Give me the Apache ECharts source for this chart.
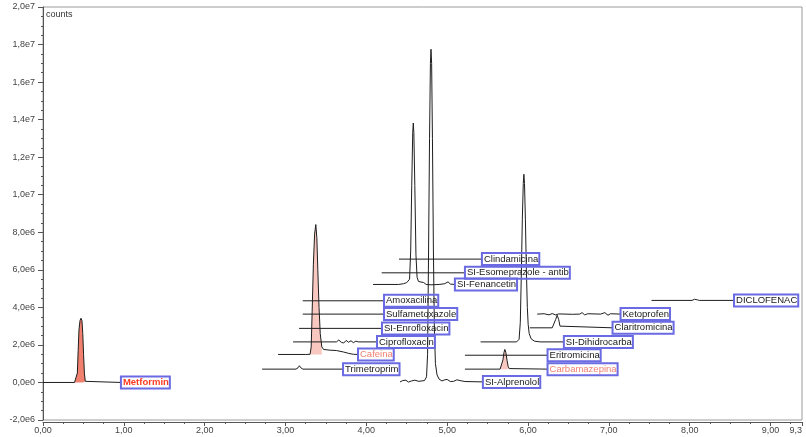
<!DOCTYPE html>
<html><head><meta charset="utf-8">
<script src="https://cdn.jsdelivr.net/npm/echarts@6/dist/echarts.min.js"></script>
<style>html,body{margin:0;padding:0;background:#fff}#c{width:806px;height:437px}</style>
</head><body><div id="c"></div>
<script>
// time (min), counts (x1e6)
const yTicks = [-2, 0, 2, 4, 6, 8, 10, 12, 14, 16, 18, 20];
const metformin = [[0,0],[0.39,0],[0.412,0.05],[0.425,0.5],[0.435,1.7],[0.445,2.8],[0.458,3.3],[0.470,3.42],[0.482,3.3],[0.492,2.6],[0.502,1.5],[0.512,0.5],[0.523,0.06],[0.54,0],[0.964,0]];
const trimetroprim = [[2.711,0.71],[3.13,0.71],[3.155,0.78],[3.172,0.89],[3.19,0.78],[3.215,0.71],[3.712,0.71]];
const cafeina = [[2.909,1.49],[3.25,1.49],[3.304,1.5],[3.318,1.9],[3.33,3.8],[3.345,6.3],[3.36,7.9],[3.375,8.41],[3.388,7.7],[3.40,6.0],[3.415,4.0],[3.43,2.6],[3.449,1.9],[3.47,1.76],[3.55,1.72],[3.63,1.7],[3.72,1.62],[3.78,1.55],[3.84,1.5],[3.897,1.49]];
const ciprofloxacin = [[3.094,2.16],[3.63,2.16],[3.66,2.26],[3.69,2.14],[3.72,2.1],[3.75,2.24],[3.78,2.14],[3.81,2.22],[3.84,2.12],[3.87,2.2],[3.90,2.16],[4.132,2.16]];
const enrofloxacin = [[3.168,2.88],[4.194,2.88]];
const sulfametoxazole = [[3.214,3.64],[4.219,3.64]];
const amoxacilina = [[3.214,4.35],[4.219,4.35]];
const fenancetin = [[4.083,5.22],[4.40,5.22],[4.46,5.26],[4.50,5.32],[4.535,5.5],[4.549,7.0],[4.562,10.5],[4.574,13.3],[4.581,13.82],[4.588,13.3],[4.60,10.5],[4.614,6.8],[4.628,5.6],[4.645,5.38],[4.664,5.35],[4.71,5.32],[4.74,5.22],[4.763,5.14],[4.80,5.2],[4.90,5.22],[4.97,5.26],[5.011,5.36],[5.04,5.24],[5.096,5.22]];
const esomeprazole = [[4.190,5.84],[5.220,5.84]];
const clindamicina = [[4.404,6.57],[5.430,6.57]];
const alprenolol = [[4.417,0.03],[4.45,0.1],[4.49,0.12],[4.52,0.02],[4.56,0.08],[4.60,0.12],[4.65,0.06],[4.72,0.1],[4.745,0.3],[4.758,1.5],[4.768,6],[4.782,13],[4.793,17.0],[4.800,17.75],[4.808,17.0],[4.818,13],[4.83,7],[4.842,2.8],[4.855,1.0],[4.875,0.4],[4.90,0.18],[4.936,0.08],[4.97,0.14],[5.00,0.16],[5.04,0.05],[5.08,0.06],[5.12,0.14],[5.16,0.1],[5.22,0.05],[5.442,0.03]];
const carbamazepina = [[5.220,0.71],[5.655,0.71],[5.674,0.78],[5.69,1.2],[5.703,1.6],[5.714,1.76],[5.726,1.6],[5.742,1.15],[5.755,0.85],[5.768,0.74],[5.79,0.71],[6.242,0.71]];
const eritromicina = [[5.22,1.45],[6.242,1.45]];
const dihidrocarba = [[5.414,2.16],[5.86,2.16],[5.89,2.3],[5.905,3.2],[5.918,5.8],[5.93,8.7],[5.942,10.6],[5.949,11.09],[5.957,10.6],[5.968,8.7],[5.98,6.0],[5.992,4.0],[6.002,3.1],[6.015,2.6],[6.04,2.32],[6.08,2.2],[6.15,2.16],[6.444,2.16]];
const claritromicina = [[6.023,2.91],[6.30,2.91],[6.324,3.0],[6.342,3.35],[6.361,3.58],[6.38,3.35],[6.396,3.0],[6.42,2.91],[7.046,2.91]];
const ketoprofen = [[6.114,3.64],[6.20,3.66],[6.26,3.6],[6.30,3.67],[6.34,3.6],[6.38,3.65],[6.55,3.63],[6.64,3.64],[6.67,3.72],[6.70,3.6],[6.74,3.66],[6.90,3.64],[6.95,3.72],[6.99,3.58],[7.02,3.66],[7.145,3.64]];
const diclofenac = [[7.528,4.37],[8.03,4.37],[8.06,4.43],[8.075,4.46],[8.095,4.4],[8.12,4.37],[8.549,4.37]];

const names = ['Metformin','Trimetroprim','Cafeina','Ciprofloxacin','SI-Enrofloxacin','Sulfametoxazole','Amoxacilina','SI-Fenancetin','SI-Esomeprazole - antib','Clindamicina','SI-Alprenolol','Carbamazepina','Eritromicina','SI-Dihidrocarba','Claritromicina','Ketoprofen','DICLOFENAC'];
const traceData = [metformin,trimetroprim,cafeina,ciprofloxacin,enrofloxacin,sulfametoxazole,amoxacilina,fenancetin,esomeprazole,clindamicina,alprenolol,carbamazepina,eritromicina,dihidrocarba,claritromicina,ketoprofen,diclofenac];
// filled peaks: [trace index, from, to, baseline]
const filledPeaks = [[0,0.39,0.54,0],[2,3.304,3.449,1.49],[11,5.655,5.79,0.71]];
const fillColors = ['#f2806e','#f8c8c0','#f8c8c0'];
const labelColors = {0:'#ff3a20',2:'#f08070',11:'#f08070'};

const FONT = 'Liberation Sans, Arial, sans-serif';
const series = [];
filledPeaks.forEach((f, k) => {
  series.push({
    type:'line', silent:true, z:1, showSymbol:false, symbol:'none',
    data: traceData[f[0]].filter(p => p[0] >= f[1] && p[0] <= f[2]),
    lineStyle:{width:0, opacity:0},
    areaStyle:{color:fillColors[k], opacity:1, origin:f[3]}
  });
});
names.forEach((n, i) => {
  series.push({
    name:n, type:'line', z:3, showSymbol:false, symbol:'none',
    data: traceData[i],
    lineStyle:{color:'#1e1e1e', width:1},
    endLabel:{
      show:true, formatter:n, distance:0,
      color: labelColors[i] || '#1a1a1a',
      fontWeight: i === 0 ? 'bold' : 'normal',
      fontSize:9.5, fontFamily:FONT, lineHeight:11,
      padding:[1,1,0,2], borderColor:'#6a6ae2', borderWidth:1,
      backgroundColor:'transparent'
    }
  });
});

function yFmt(v){
  if (v === 0) return '0,0e0';
  let s = Math.abs(v) >= 10 ? (v/10).toFixed(1) + 'e7' : v.toFixed(1) + 'e6';
  return s.replace('.', ',');
}
function xFmt(v){
  if (Math.abs(v - Math.round(v)) < 1e-9) return v.toFixed(2).replace('.', ',');
  return (Math.floor(v*10)/10).toString().replace('.', ',');
}

const chart = echarts.init(document.getElementById('c'), null, {renderer:'canvas'});
chart.setOption({
  animation:false,
  backgroundColor:'#fff',
  grid:{left:43, right:4, top:7, bottom:17, show:true, borderColor:'#9a9a9a', borderWidth:1, backgroundColor:'transparent'},
  xAxis:{
    type:'value', min:0, max:9.39, interval:1, offset:2,
    axisLine:{show:true, onZero:false, lineStyle:{color:'#555', width:1}},
    axisTick:{show:true, length:4, lineStyle:{color:'#555'}},
    minorTick:{show:true, splitNumber:4, length:2, lineStyle:{color:'#555'}},
    splitLine:{show:false},
    axisLabel:{fontSize:9, color:'#444', fontFamily:FONT, margin:4, formatter:xFmt, alignMaxLabel:'right', showMaxLabel:true}
  },
  yAxis:{
    type:'value', min:yTicks[0], max:yTicks[yTicks.length-1], interval:2, offset:2,
    axisLine:{show:true, lineStyle:{color:'#555', width:1}},
    axisTick:{show:true, length:5, lineStyle:{color:'#555'}},
    minorTick:{show:true, splitNumber:4, length:2, lineStyle:{color:'#555'}},
    splitLine:{show:false},
    axisLabel:{fontSize:9, color:'#444', fontFamily:FONT, margin:6, formatter:yFmt}
  },
  graphic:[{type:'text', left:46, top:10, style:{text:'counts', fontSize:9, fill:'#333', fontFamily:FONT}}],
  series:series
});
</script></body></html>
